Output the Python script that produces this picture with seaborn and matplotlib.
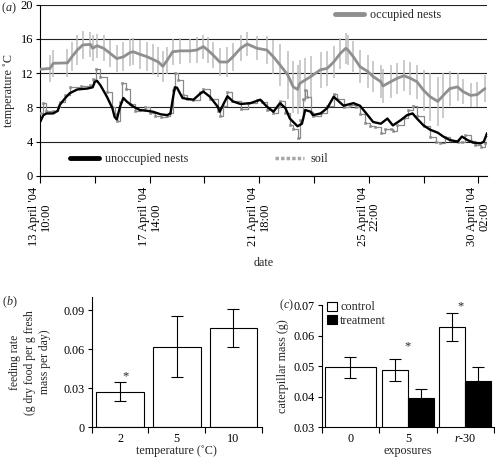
import pandas as pd
import matplotlib
matplotlib.use('Agg')
import matplotlib.pyplot as plt
import matplotlib.dates as mdates
from matplotlib.lines import Line2D
from matplotlib.patches import Patch
from matplotlib.ticker import FixedLocator
import seaborn as sns

# ---- (a) nest / soil temperatures, hours after 13 April '04 10:00
start = pd.Timestamp('2004-04-13 10:00')

occ_hours = [0, 9, 12, 25, 29, 34, 39, 46, 48, 52, 58, 64, 70, 76, 82, 85, 91, 98, 103, 108,
             112, 116, 121, 128, 137, 143, 149, 153, 158, 164, 171, 176, 183, 189, 198, 207,
             213, 219, 226, 231, 235, 237, 242, 247, 256, 262, 268, 274, 279, 281, 286, 292,
             299, 304, 311, 313, 320, 326, 332, 338, 344, 350, 356, 363, 368, 374, 381, 386,
             393, 399, 406]
occ_temp = [12.45, 12.55, 13.15, 13.2, 13.9, 14.7, 15.3, 15.35, 14.9, 15.2, 14.9, 14.3, 13.7,
            13.9, 14.4, 14.5, 14.2, 13.9, 13.6, 13.3, 12.8, 13.5, 14.5, 14.6, 14.6, 14.7, 15.1,
            14.7, 14.1, 13.3, 13.3, 13.9, 14.9, 15.4, 14.9, 14.7, 13.9, 12.95, 11.8, 10.4, 10.1,
            10.8, 11.2, 11.6, 12.4, 12.55, 13.3, 14.3, 14.9, 14.7, 13.9, 12.75, 12.2, 11.6, 11.0,
            10.5, 11.0, 11.4, 11.7, 11.4, 11.0, 10.0, 9.25, 8.7, 9.4, 10.2, 10.4, 9.85, 9.4,
            9.5, 10.2]
occ_err = [1.6, 1.6, 1.6, 1.6, 1.7, 1.7, 1.6, 1.5, 1.5, 1.4, 1.5, 1.6, 1.6, 1.7, 1.6, 1.6,
           1.7, 1.7, 1.8, 1.7, 1.8, 1.6, 1.5, 1.5, 1.4, 1.5, 1.4, 1.5, 1.5, 1.6, 1.7, 1.6, 1.5,
           1.4, 1.4, 1.6, 2.0, 2.4, 2.8, 3.0, 2.9, 2.7, 2.6, 2.4, 2.1, 2.0, 1.9, 1.8, 1.8, 1.7,
           1.8, 1.9, 1.9, 1.8, 1.9, 2.0, 1.9, 1.8, 1.8, 1.9, 2.0, 2.4, 2.8, 2.9, 2.6, 2.0, 1.6,
           1.5, 1.4, 1.5, 1.6]

unocc_hours = [0, 3, 6, 12, 16, 18, 23, 27, 34, 43, 48, 50, 52, 55, 61, 66, 68, 70, 73, 76,
               79, 85, 91, 98, 103, 110, 116, 119, 121, 123, 125, 130, 134, 140, 146, 149, 155,
               162, 164, 167, 171, 176, 183, 192, 201, 207, 213, 219, 224, 228, 235, 239, 242,
               247, 249, 256, 262, 268, 271, 277, 286, 292, 299, 304, 311, 317, 322, 329, 335,
               340, 344, 350, 356, 363, 368, 374, 381, 385, 390, 395, 402, 405, 408]
unocc_temp = [6.3, 7.1, 7.3, 7.3, 7.6, 8.3, 9.1, 9.65, 10.1, 10.2, 10.35, 11.0, 11.1, 10.6,
              9.25, 7.9, 6.9, 6.6, 8.1, 9.1, 8.7, 8.1, 7.7, 7.6, 7.5, 7.2, 7.1, 7.3, 8.9, 10.35,
              10.3, 9.1, 9.0, 8.9, 9.6, 9.85, 9.25, 8.1, 7.5, 8.3, 9.3, 8.7, 8.4, 8.5, 8.9, 8.1,
              7.5, 8.5, 7.9, 6.7, 5.8, 6.1, 7.7, 7.5, 7.1, 7.3, 7.9, 9.25, 8.9, 8.2, 8.5, 8.2,
              7.1, 6.3, 6.1, 6.7, 5.9, 6.5, 7.1, 7.3, 6.7, 5.9, 5.4, 5.05, 4.6, 4.2, 4.0, 4.6,
              4.2, 3.9, 3.8, 4.0, 5.0]

soil_hours = [0, 3, 5, 12, 16, 18, 23, 27, 37, 46, 48, 51, 55, 61, 66, 68, 70, 73, 75, 78,
              82, 87, 91, 96, 100, 105, 110, 116, 119, 121, 123, 126, 130, 134, 140, 146, 149,
              155, 162, 164, 167, 171, 175, 183, 190, 198, 203, 207, 213, 217, 219, 224, 228,
              231, 235, 237, 240, 242, 244, 247, 249, 256, 262, 268, 271, 277, 283, 288, 292,
              297, 301, 306, 311, 315, 320, 322, 326, 332, 336, 340, 344, 350, 356, 361, 365,
              370, 374, 381, 385, 388, 393, 397, 402, 406, 408]
soil_temp = [7.3, 8.5, 7.6, 7.6, 8.0, 8.6, 9.4, 10.4, 10.5, 10.6, 11.3, 12.5, 11.6, 9.8, 8.1,
             7.2, 6.4, 8.6, 10.9, 10.2, 8.4, 7.6, 7.7, 8.0, 7.3, 7.0, 6.9, 7.0, 7.3, 10.0, 12.0,
             11.2, 9.5, 9.0, 8.9, 9.8, 10.2, 9.0, 7.6, 7.0, 8.2, 9.8, 8.8, 7.8, 8.5, 8.9, 8.6,
             7.7, 7.3, 8.0, 8.7, 7.4, 6.0, 5.5, 4.4, 6.5, 9.0, 10.0, 9.2, 7.5, 7.0, 7.3, 8.2,
             9.6, 9.0, 8.0, 8.3, 8.1, 7.2, 6.2, 5.8, 5.7, 5.0, 5.5, 5.5, 5.2, 6.0, 6.8, 7.7,
             8.2, 7.0, 5.8, 4.5, 4.0, 3.9, 4.6, 4.2, 4.0, 4.0, 4.8, 4.1, 3.6, 3.4, 3.8, 4.8]

# ---- (b) feeding rate
feed_temp = ['2', '5', '10']
feed_rate = [0.0273, 0.0619, 0.0760]
feed_err = [0.0071, 0.0233, 0.0147]

# ---- (c) caterpillar mass
exposures = ['0', '5', r'$\it{r}$-30']
ctrl_mass = [0.0496, 0.0489, 0.0629]
ctrl_err = [0.0035, 0.0036, 0.0046]
treat_exp = ['5', r'$\it{r}$-30']
treat_mass = [0.0397, 0.0451]
treat_err = [0.0028, 0.0045]

sns.set_theme(style='white')
plt.rcParams['font.family'] = ['Liberation Serif', 'DejaVu Serif']
fs = 8.7
plt.rcParams.update({'font.size': fs, 'axes.labelsize': fs, 'xtick.labelsize': fs,
                     'ytick.labelsize': fs, 'legend.fontsize': fs})
plt.rcParams['mathtext.fontset'] = 'custom'
plt.rcParams['mathtext.rm'] = 'Liberation Serif'
plt.rcParams['mathtext.it'] = 'Liberation Serif:italic'
plt.rcParams['axes.edgecolor'] = 'black'
plt.rcParams['axes.linewidth'] = 0.8
plt.rcParams['xtick.color'] = 'black'
plt.rcParams['ytick.color'] = 'black'

fig = plt.figure(figsize=(4.95, 4.59), dpi=100)
ax_a = fig.add_axes([0.081, 0.6166, 0.903, 0.3734])
ax_b = fig.add_axes([0.185, 0.069, 0.344, 0.284])
ax_c = fig.add_axes([0.650, 0.069, 0.348, 0.2665])

# ---------------- panel (a)
occ = pd.DataFrame({'time': start + pd.to_timedelta(occ_hours, unit='h'),
                    'temp': occ_temp, 'err': occ_err})
unocc = pd.DataFrame({'time': start + pd.to_timedelta(unocc_hours, unit='h'),
                      'temp': unocc_temp})
soil = pd.DataFrame({'time': start + pd.to_timedelta(soil_hours, unit='h'),
                     'temp': soil_temp})

ax_a.errorbar(occ['time'], occ['temp'], yerr=occ['err'], fmt='none',
              ecolor='#bdbdbd', elinewidth=1.1, capsize=0, zorder=2)
sns.lineplot(data=occ, x='time', y='temp', ax=ax_a, color='#8f8f8f', lw=2, zorder=3)
sns.lineplot(data=soil, x='time', y='temp', ax=ax_a, color='#8a8a8a', lw=0.9,
             drawstyle='steps-post', marker='s', markersize=2.0, markerfacecolor='none',
             markeredgecolor='#8a8a8a', markeredgewidth=0.5, zorder=4)
sns.lineplot(data=unocc, x='time', y='temp', ax=ax_a, color='black', lw=1.7, zorder=5)

ax_a.set_ylim(0, 20)
ax_a.set_yticks([0, 4, 8, 12, 16, 20])
ax_a.set_xlim(start, start + pd.Timedelta(hours=408))
ax_a.yaxis.grid(True, color='#222222', lw=0.8)
ax_a.set_axisbelow(True)
for s in ['top', 'right']:
    ax_a.spines[s].set_visible(False)
ax_a.set_xticks(pd.date_range(start, periods=5, freq='100h'))
ax_a.xaxis.set_major_formatter(mdates.DateFormatter("%d %B '%y\n%H:%M"))
ax_a.xaxis.set_minor_locator(FixedLocator(mdates.date2num(pd.date_range(start, periods=9, freq='50h'))))
ax_a.tick_params(axis='x', which='both', direction='out', length=5, width=0.8, bottom=True,
                 labelrotation=90, pad=3, labelsize=9)
ax_a.tick_params(axis='y', direction='out', length=3, width=0.8, left=True, pad=2,
                 labelsize=9)
for lab in ax_a.get_xticklabels():
    lab.set_multialignment('center')
    lab.set_linespacing(1.0)
ax_a.set_xlabel('date', labelpad=8)
ax_a.set_ylabel('temperature ˚C', labelpad=4)

leg_kw = dict(frameon=False, handlelength=2.4, handletextpad=0.5, borderpad=0,
              borderaxespad=0, loc='center left')
leg1 = ax_a.legend([Line2D([], [], color='#8f8f8f', lw=3.5)], ['occupied nests'],
                   bbox_to_anchor=(0.66, 0.939), **leg_kw)
ax_a.add_artist(leg1)
leg2 = ax_a.legend([Line2D([], [], color='black', lw=3.5)], ['unoccupied nests'],
                   bbox_to_anchor=(0.067, 0.099), **leg_kw)
ax_a.add_artist(leg2)
ax_a.legend([Line2D([], [], color='#a8a8a8', lw=2.5, ls=(0, (1, 0.6)))], ['soil'],
            bbox_to_anchor=(0.526, 0.099), **leg_kw)

# ---------------- panel (b)
sns.barplot(x=feed_temp, y=feed_rate, order=feed_temp, ax=ax_b, color='white',
            edgecolor='black', linewidth=0.8, width=0.84, errorbar=None)
centers = [p.get_x() + p.get_width() / 2 for p in ax_b.patches]
ax_b.errorbar(centers, feed_rate, yerr=feed_err, fmt='none', ecolor='black',
              elinewidth=0.8, capsize=4, capthick=0.8)
ax_b.text(centers[0] + 0.1, feed_rate[0] + feed_err[0] + 0.0005, '*', ha='center',
          va='bottom', fontsize=9)
ax_b.set_ylim(0, 0.1)
ax_b.set_yticks([0, 0.03, 0.06, 0.09])
ax_b.set_yticklabels(['0', '0.03', '0.06', '0.09'])
ax_b.set_xlim(-0.5, 2.5)
ax_b.set_xlabel('temperature (˚C)', labelpad=0)
ax_b.set_ylabel('feeding rate\n(g dry food per g fresh\nmass per day)', labelpad=9,
                linespacing=1.3, fontsize=8.4)

# ---------------- panel (c)
sns.barplot(x=exposures[:1], y=ctrl_mass[:1], order=exposures, ax=ax_c, color='white',
            edgecolor='black', linewidth=0.8, width=0.9, errorbar=None)
mass = pd.DataFrame({'exposure': exposures[1:] + treat_exp,
                     'group': ['control'] * 2 + ['treatment'] * 2,
                     'mass': ctrl_mass[1:] + treat_mass})
sns.barplot(data=mass, x='exposure', y='mass', hue='group', order=exposures,
            hue_order=['control', 'treatment'],
            palette={'control': 'white', 'treatment': 'black'}, ax=ax_c,
            edgecolor='black', linewidth=0.8, width=0.9, errorbar=None, legend=False)
bars = [p for p in ax_c.patches if p.get_height() > 0]
centers_c = [p.get_x() + p.get_width() / 2 for p in bars]
ax_c.errorbar(centers_c, ctrl_mass + treat_mass, yerr=ctrl_err + treat_err, fmt='none',
              ecolor='black', elinewidth=0.8, capsize=4, capthick=0.8, zorder=5)
ax_c.text(1.0, 0.0565, '*', ha='center', va='center', fontsize=9)
ax_c.text(1.91, 0.0697, '*', ha='center', va='center', fontsize=9, clip_on=False)
ax_c.set_ylim(0.03, 0.07)
ax_c.set_yticks([0.03, 0.04, 0.05, 0.06, 0.07])
ax_c.set_yticklabels(['0.03', '0.04', '0.05', '0.06', '0.07'])
ax_c.set_xlim(-0.5, 2.5)
ax_c.set_xlabel('exposures', labelpad=0)
ax_c.set_ylabel('caterpillar mass (g)', labelpad=3)
ax_c.legend([Patch(facecolor='white', edgecolor='black', lw=0.8),
             Patch(facecolor='black', edgecolor='black', lw=0.8)],
            ['control', 'treatment'], loc='upper left', bbox_to_anchor=(0.03, 1.03),
            frameon=False, handlelength=0.8, handleheight=0.8, handletextpad=0.3,
            labelspacing=0.1, borderpad=0, borderaxespad=0)

for ax in (ax_b, ax_c):
    for s in ['top', 'right']:
        ax.spines[s].set_visible(False)
    ax.xaxis.set_minor_locator(FixedLocator([-0.5, 0.5, 1.5, 2.5]))
    ax.tick_params(axis='x', which='major', length=0, pad=4)
    ax.tick_params(axis='x', which='minor', direction='out', length=4, width=0.8, bottom=True)
    ax.tick_params(axis='y', direction='out', length=3, width=0.8, left=True, pad=2)

fig.text(0.002, 0.982, r'($\it{a}$)', fontsize=fs, va='center')
fig.text(0.004, 0.341, r'($\it{b}$)', fontsize=fs, va='center')
fig.text(0.564, 0.335, r'($\it{c}$)', fontsize=fs, va='center')

fig.savefig('out.png', dpi=100)
